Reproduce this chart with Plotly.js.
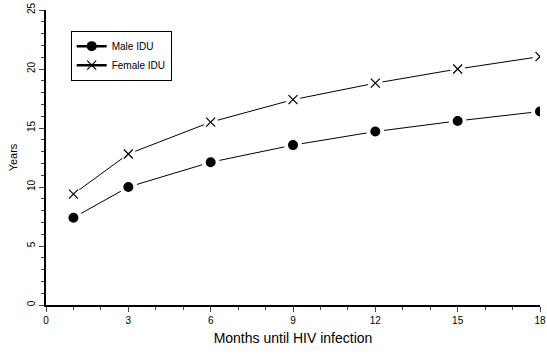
<!DOCTYPE html>
<html><head><meta charset="utf-8">
<script src="https://cdn.plot.ly/plotly-3.0.1.min.js"></script>
<style>html,body{margin:0;padding:0;background:#fff}#c{width:547px;height:355px}</style>
</head><body><div id="c"></div>
<script>
const months = [1, 3, 6, 9, 12, 15, 18];
const maleIDU = [7.4, 10.0, 12.1, 13.55, 14.7, 15.6, 16.4];
const femaleIDU = [9.4, 12.8, 15.5, 17.4, 18.8, 20.0, 21.05];
const xTicks = [0, 3, 6, 9, 12, 15, 18];
const yTicks = [0, 5, 10, 15, 20, 25];

const F = 'Liberation Sans, Arial, sans-serif';
const traces = [
  // legend-only entries (no data points)
  {x: [null], y: [null], name: 'Male IDU', mode: 'lines+markers',
   line: {color: '#000', width: 2.5}, marker: {symbol: 'circle', size: 10, color: '#000'}},
  {x: [null], y: [null], name: 'Female IDU', mode: 'lines+markers',
   line: {color: '#000', width: 2.5}, marker: {symbol: 'x-thin-open', size: 9, color: '#000', line: {color: '#000', width: 1.2}}},
  // male: line with black dot surrounded by a white ring (gap)
  {x: months, y: maleIDU, mode: 'lines+markers', showlegend: false,
   line: {color: '#000', width: 1}, marker: {symbol: 'circle', size: 14, color: '#000', line: {color: '#fff', width: 4}}},
  // female: line with white disk (gap), then x markers on top
  {x: months, y: femaleIDU, mode: 'lines+markers', showlegend: false,
   line: {color: '#000', width: 1}, marker: {symbol: 'circle', size: 15, color: '#fff', line: {color: '#fff', width: 0}}},
  {x: months, y: femaleIDU, mode: 'markers', showlegend: false,
   marker: {symbol: 'x-thin-open', size: 9, color: '#000', line: {color: '#000', width: 1.2}}}
];
const layout = {
  width: 547, height: 355,
  margin: {l: 46, r: 7, t: 10, b: 50},
  paper_bgcolor: '#fff', plot_bgcolor: '#fff',
  font: {family: F, color: '#000', size: 10},
  showlegend: true,
  legend: {x: 0.05, y: 0.93, xanchor: 'left', yanchor: 'top', bordercolor: '#000', borderwidth: 1,
    bgcolor: '#fff', font: {size: 10, family: F, color: '#000'}, itemwidth: 30, tracegroupgap: 0},
  xaxis: {range: [0, 18], tickvals: xTicks, ticks: 'outside', ticklen: 5, tickwidth: 1,
    showline: true, linecolor: '#000', linewidth: 2, showgrid: false, zeroline: false,
    tickfont: {size: 10, family: F, color: '#000'},
    minor: {dtick: 1, ticks: 'outside', ticklen: 3, tickwidth: 1, showgrid: false},
    title: {text: 'Months until HIV infection', font: {size: 14, family: F, color: '#000'}, standoff: 8}},
  yaxis: {range: [0, 25], tickvals: yTicks, ticks: 'outside', ticklen: 5, tickwidth: 1, tickangle: -90,
    showline: true, linecolor: '#000', linewidth: 2, showgrid: false, zeroline: false,
    tickfont: {size: 10, family: F, color: '#000'},
    minor: {dtick: 1, ticks: 'outside', ticklen: 3, tickwidth: 1, showgrid: false},
    title: {text: 'Years', font: {size: 11, family: F, color: '#000'}, standoff: 6}}
};
Plotly.newPlot('c', traces, layout, {displayModeBar: false, staticPlot: true});
</script></body></html>
